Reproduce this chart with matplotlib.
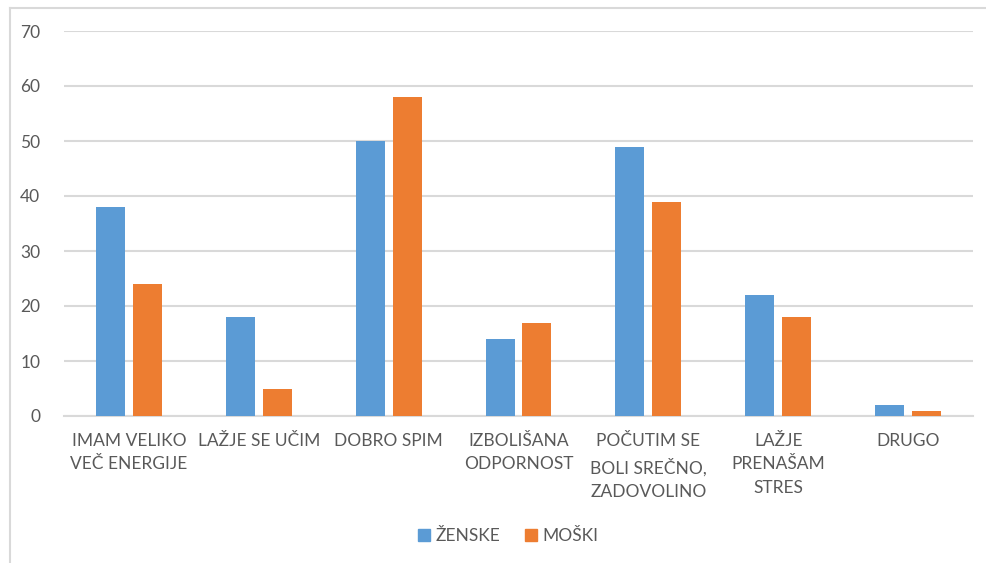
import numpy as np
import matplotlib.pyplot as plt
from matplotlib.lines import Line2D

plt.rcParams['font.family'] = ['Lato', 'DejaVu Sans']

# Survey answers per category
categories = ['IMAM VELIKO\nVEČ ENERGIJE', 'LAŽJE SE UČIM', 'DOBRO SPIM',
              'IZBOLIŠANA\nODPORNOST', 'POČUTIM SE\nBOLI SREČNO,\nZADOVOLINO',
              'LAŽJE\nPRENAŠAM\nSTRES', 'DRUGO']
zenske = [38, 18, 50, 14, 49, 22, 2]
moski = [24, 5, 58, 17, 39, 18, 1]
series_names = ['ŽENSKE', 'MOŠKI']

blue = '#5B9BD5'
orange = '#ED7D31'
text_col = '#595959'
grid_col = '#D9D9D9'

fig = plt.figure(figsize=(9.87, 5.63), dpi=100)
ax = fig.add_axes([64 / 987, 1 - 416 / 563, (973 - 64) / 987, (416 - 31) / 563])

x = np.arange(len(categories))
w = 0.223
off = 0.142
ax.bar(x - off, zenske, width=w, color=blue, zorder=3)
ax.bar(x + off, moski, width=w, color=orange, zorder=3)

ax.set_xlim(-0.5, len(categories) - 0.5)
ax.set_ylim(0, 70)
ax.set_yticks(range(0, 71, 10))
ax.yaxis.grid(True, color=grid_col, linewidth=1.5, zorder=0)
ax.set_axisbelow(True)

for s in ['top', 'right', 'left']:
    ax.spines[s].set_visible(False)
ax.spines['bottom'].set_color(grid_col)
ax.spines['bottom'].set_linewidth(1.5)

ax.set_xticks(x)
ax.set_xticklabels(categories, linespacing=1.6, va='top')
ax.tick_params(axis='both', length=0, colors=text_col, labelsize=12.5)
ax.tick_params(axis='y', pad=17)
ax.tick_params(axis='x', pad=12)

# legend below the plot
handles = [Line2D([], [], marker='s', linestyle='none', markersize=8, color=blue),
           Line2D([], [], marker='s', linestyle='none', markersize=8, color=orange)]
leg = fig.legend(handles, series_names, loc='center', bbox_to_anchor=(508 / 987, 1 - 536 / 563),
                 ncol=2, frameon=False, fontsize=12.5, handlelength=0.7, handletextpad=0.3,
                 columnspacing=1.4, labelcolor=text_col)

# chart frame
fig.add_artist(Line2D([9.5 / 987, 9.5 / 987], [0, 1 - 7.5 / 563], color=grid_col, linewidth=1.5))
fig.add_artist(Line2D([9.5 / 987, 1], [1 - 7.5 / 563, 1 - 7.5 / 563], color=grid_col, linewidth=1.5))

fig.savefig('out.png', dpi=100)
